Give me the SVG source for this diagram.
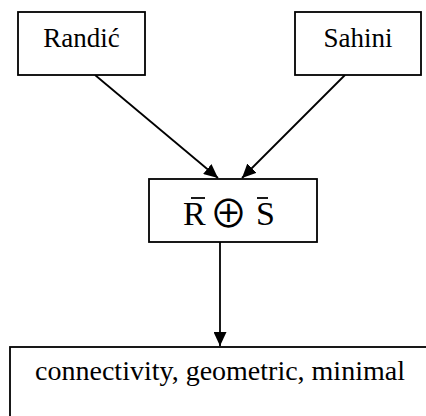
<svg xmlns="http://www.w3.org/2000/svg" width="426" height="416" viewBox="0 0 426 416">
<style>
.box{fill:#fff;stroke:#000;stroke-width:1.8}
.t{font-family:"Liberation Serif","Times New Roman",serif;fill:#000}
.op{font-family:"Noto Sans CJK SC","DejaVu Serif",serif;fill:#000}
.c{stroke:#000;stroke-width:1.8;fill:none}
</style>
<defs>
<marker id="ah" viewBox="0 0 14 13" refX="14" refY="6.5" markerWidth="14" markerHeight="13" markerUnits="userSpaceOnUse" orient="auto">
<path d="M0,0 L14,6.5 L0,13 Z" fill="#000"/>
</marker>
</defs>
<rect width="426" height="416" fill="#fff"/>
<g id="connectors">
<line class="c" x1="95" y1="75" x2="218" y2="178" marker-end="url(#ah)"/>
<line class="c" x1="345" y1="75" x2="242" y2="178" marker-end="url(#ah)"/>
<line class="c" x1="220" y1="242" x2="220" y2="346" marker-end="url(#ah)"/>
</g>
<g id="randic">
<rect class="box" x="18" y="12" width="127" height="63"/>
<text class="t" x="81.5" y="47" font-size="27" text-anchor="middle">Randić</text>
</g>
<g id="sahini">
<rect class="box" x="295" y="12" width="126" height="63"/>
<text class="t" x="358" y="47" font-size="27" text-anchor="middle">Sahini</text>
</g>
<g id="rs">
<rect class="box" x="149" y="179" width="168" height="63"/>
<text class="t" x="183" y="225" font-size="34">R</text>
<text class="op" x="228.5" y="227" font-size="38" text-anchor="middle">⊕</text>
<text class="t" x="256" y="225" font-size="34">S</text>
<line class="c" x1="191" y1="198" x2="205" y2="198" stroke-width="1.4"/>
<line class="c" x1="257" y1="198" x2="268" y2="198" stroke-width="1.4"/>
</g>
<g id="result">
<rect class="box" x="10" y="347" width="430" height="80"/>
<text class="t" x="220" y="380" font-size="28" text-anchor="middle">connectivity, geometric, minimal</text>
</g>
</svg>
